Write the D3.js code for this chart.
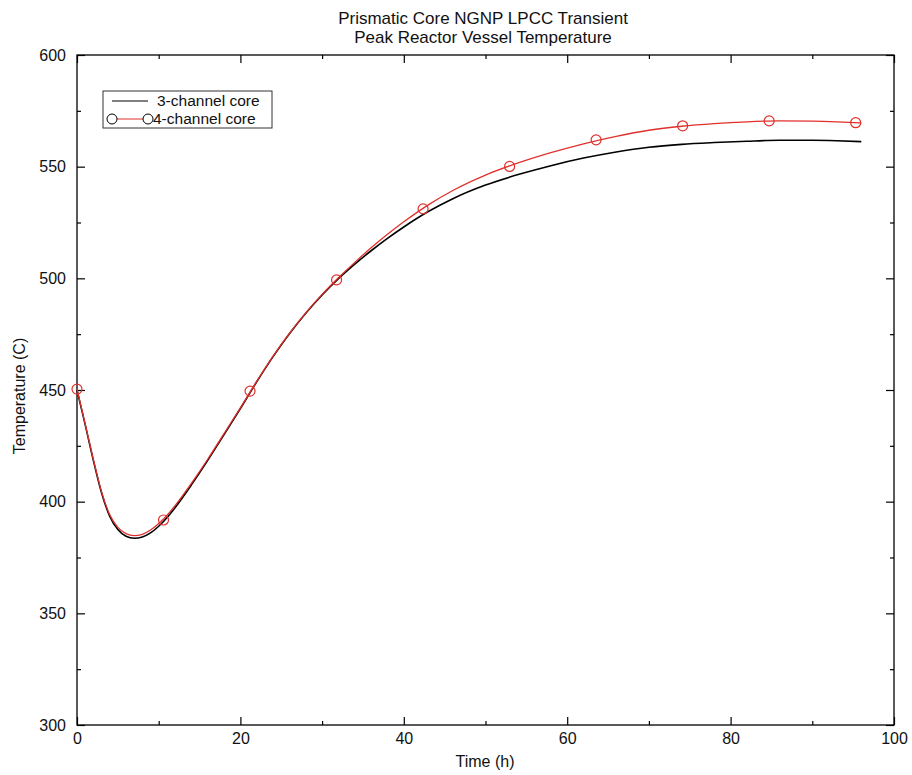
<!DOCTYPE html>
<html>
<head>
<meta charset="utf-8">
<script src="https://cdn.jsdelivr.net/npm/d3@7/dist/d3.min.js"></script>
<style>
  html, body { margin: 0; padding: 0; background: #fff; }
  svg { display: block; font-family: "Liberation Sans", Arial, sans-serif; }
</style>
</head>
<body>
<svg id="chart" width="912" height="775"></svg>
<script>
// Time after transient start (h)
const timeH = [0, 1, 2, 3, 4, 5, 6, 7, 8, 9, 10, 11, 12, 14, 16, 18, 20, 22, 24, 26, 28, 30,
  32, 34, 36, 38, 40, 43, 46, 50, 54, 58, 62, 66, 70, 74, 78, 82, 86, 90, 93, 96];

// Peak reactor vessel temperature (C), 3-channel core model
const temp3ch = [450, 434.5, 418.5, 404, 393.5, 387.5, 384.5, 383.6, 384.2, 386.0, 389.0, 392.8,
  397.3, 407.5, 418.5, 430, 441.7, 453.7, 464.95, 475.15, 484.35, 492.55,
  499.85, 506.35, 512.35, 517.9, 523.0, 529.9, 535.65, 541.75, 546.45, 550.45, 553.85, 556.6,
  558.7, 560.0, 560.8, 561.4, 561.8, 561.8, 561.6, 561.2];

// Peak reactor vessel temperature (C), 4-channel core model
const temp4ch = [450.4, 434.8, 419, 404.5, 394.2, 388.5, 385.7, 384.8, 385.4, 387.3, 390.2, 393.8,
  398.2, 408.2, 419, 430.5, 442.0, 453.9, 465.15, 475.35, 484.55, 492.8,
  500.25, 507.15, 513.65, 519.7, 525.3, 532.9, 539.35, 546.25, 551.65, 556.25, 560.25, 563.6,
  566.3, 568.1, 569.3, 570.1, 570.5, 570.4, 570.1, 569.6];

// Symbol positions along the 4-channel curve
const markTimeH = [0, 10.59, 21.18, 31.77, 42.36, 52.95, 63.54, 74.13, 84.72, 95.31];
const markTemp4ch = [450.4, 391.8, 449.5, 499.3, 531.1, 550.1, 562.0, 568.3, 570.5, 569.7];

const xTicksMajor = [0, 20, 40, 60, 80, 100];
const xTicksMinor = [10, 30, 50, 70, 90];
const yTicksMajor = [300, 350, 400, 450, 500, 550, 600];
const yTicksMinor = [325, 375, 425, 475, 525, 575];

const titleLines = ["Prismatic Core NGNP LPCC Transient", "Peak Reactor Vessel Temperature"];
const seriesNames = ["3-channel core", "4-channel core"];

const svg = d3.select("#chart");
const plotL = 77, plotR = 894, plotT = 55, plotB = 725;

const x = d3.scaleLinear().domain([0, 100]).range([plotL, plotR]);
const y = d3.scaleLinear().domain([300, 600]).range([plotB, plotT]);

const RED = "#e0302c";

// Titles
svg.selectAll("text.title").data(titleLines).join("text")
  .attr("class", "title")
  .attr("x", 483).attr("y", (d, i) => 24 + i * 19)
  .attr("text-anchor", "middle")
  .attr("font-size", 17)
  .attr("fill", "#111")
  .text(d => d);

// Axes with inward ticks on all four sides
function styleAxis(g) {
  g.select(".domain").remove();
  g.selectAll(".tick line").attr("stroke", "#000").attr("stroke-width", 1.2);
  g.selectAll(".tick text").attr("font-size", 16).attr("fill", "#111")
    .attr("font-family", "Liberation Sans, Arial, sans-serif");
}

svg.append("g").attr("transform", `translate(0,${plotB})`)
  .call(d3.axisBottom(x).tickValues(xTicksMajor).tickSize(-8).tickPadding(8).tickFormat(d3.format("d")))
  .call(styleAxis);
svg.append("g").attr("transform", `translate(0,${plotB})`)
  .call(d3.axisBottom(x).tickValues(xTicksMinor).tickSize(-4).tickFormat(""))
  .call(styleAxis);
svg.append("g").attr("transform", `translate(0,${plotT})`)
  .call(d3.axisTop(x).tickValues(xTicksMajor).tickSize(-8).tickFormat(""))
  .call(styleAxis);
svg.append("g").attr("transform", `translate(0,${plotT})`)
  .call(d3.axisTop(x).tickValues(xTicksMinor).tickSize(-4).tickFormat(""))
  .call(styleAxis);

svg.append("g").attr("transform", `translate(${plotL},0)`)
  .call(d3.axisLeft(y).tickValues(yTicksMajor).tickSize(-8).tickPadding(11).tickFormat(d3.format("d")))
  .call(styleAxis);
svg.append("g").attr("transform", `translate(${plotL},0)`)
  .call(d3.axisLeft(y).tickValues(yTicksMinor).tickSize(-4).tickFormat(""))
  .call(styleAxis);
svg.append("g").attr("transform", `translate(${plotR},0)`)
  .call(d3.axisRight(y).tickValues(yTicksMajor).tickSize(-8).tickFormat(""))
  .call(styleAxis);
svg.append("g").attr("transform", `translate(${plotR},0)`)
  .call(d3.axisRight(y).tickValues(yTicksMinor).tickSize(-4).tickFormat(""))
  .call(styleAxis);

// Plot frame
svg.append("rect")
  .attr("x", plotL).attr("y", plotT)
  .attr("width", plotR - plotL).attr("height", plotB - plotT)
  .attr("fill", "none").attr("stroke", "#000").attr("stroke-width", 1.3);

// Axis titles
svg.append("text")
  .attr("x", 485).attr("y", 767)
  .attr("text-anchor", "middle").attr("font-size", 16).attr("fill", "#111")
  .text("Time (h)");
svg.append("text")
  .attr("transform", `translate(25,${(plotT + plotB) / 2 + 6}) rotate(-90)`)
  .attr("text-anchor", "middle").attr("font-size", 16).attr("fill", "#111")
  .text("Temperature (C)");

// Curves
const line = (vals) => d3.line()
  .x((d, i) => x(timeH[i]))
  .y(d => y(d))
  .curve(d3.curveMonotoneX)(vals);

svg.append("path").attr("d", line(temp3ch))
  .attr("fill", "none").attr("stroke", "#000").attr("stroke-width", 1.6);
svg.append("path").attr("d", line(temp4ch))
  .attr("fill", "none").attr("stroke", RED).attr("stroke-width", 1.3);

svg.selectAll("circle.mark").data(markTimeH).join("circle")
  .attr("class", "mark")
  .attr("cx", d => x(d))
  .attr("cy", (d, i) => y(markTemp4ch[i]))
  .attr("r", 5)
  .attr("fill", "none").attr("stroke", RED).attr("stroke-width", 1.2);

// Legend
const lg = svg.append("g");
lg.append("rect").attr("x", 103).attr("y", 91).attr("width", 169).attr("height", 37)
  .attr("fill", "#fff").attr("stroke", "#333").attr("stroke-width", 1);
lg.append("line").attr("x1", 112).attr("x2", 148).attr("y1", 101).attr("y2", 101)
  .attr("stroke", "#000").attr("stroke-width", 1);
lg.append("line").attr("x1", 112).attr("x2", 148).attr("y1", 119).attr("y2", 119)
  .attr("stroke", RED).attr("stroke-width", 1.2);
lg.selectAll("circle").data([112, 148]).join("circle")
  .attr("cx", d => d).attr("cy", 119).attr("r", 5)
  .attr("fill", "#fff").attr("stroke", "#000").attr("stroke-width", 1);
lg.selectAll("text").data(seriesNames).join("text")
  .attr("x", (d, i) => i === 0 ? 157 : 153)
  .attr("y", (d, i) => 106 + i * 18)
  .attr("font-size", 15.5).attr("fill", "#111")
  .text(d => d);
</script>
</body>
</html>
